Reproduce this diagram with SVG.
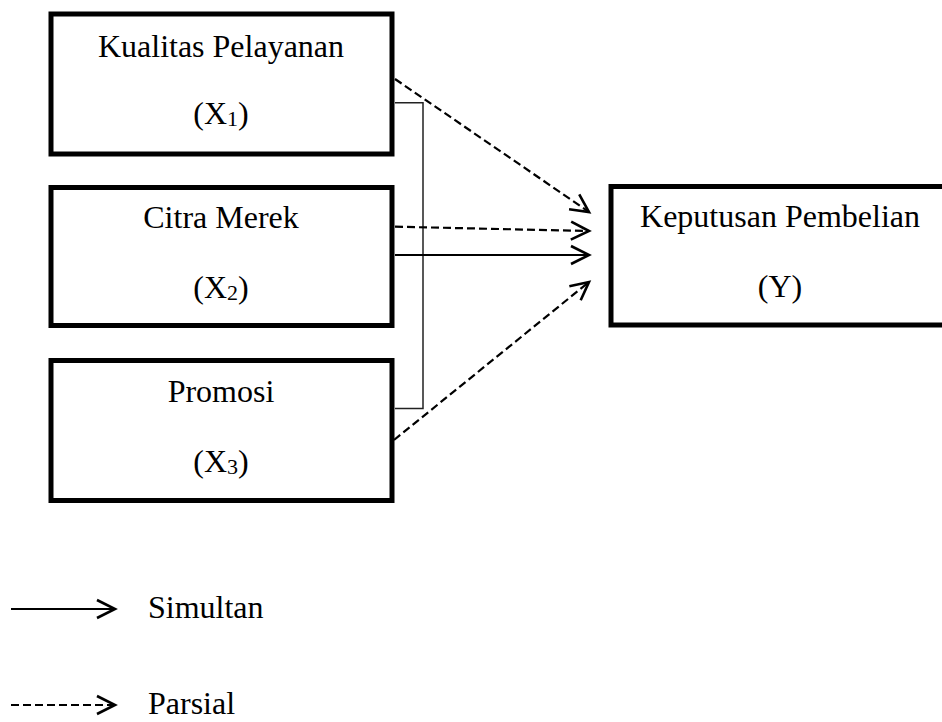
<svg xmlns="http://www.w3.org/2000/svg" width="942" height="722" viewBox="0 0 942 722">
<style>
  .box { fill: #fff; stroke: #000; stroke-width: 5; }
  .t { font-family: "Liberation Serif", "Times New Roman", serif; font-size: 32px; fill: #000; text-anchor: middle; }
  .tl { font-family: "Liberation Serif", "Times New Roman", serif; font-size: 32px; fill: #000; }
  .sub { font-size: 22px; }
  .solid { fill: none; stroke: #000; stroke-width: 2; }
  .dash { fill: none; stroke: #000; stroke-width: 2.2; stroke-dasharray: 8 4; }
  .brk { fill: none; stroke: #222; stroke-width: 1.5; }
</style>
<defs>
  <marker id="ah" markerUnits="userSpaceOnUse" viewBox="-21 -11 24 22" refX="0" refY="0" markerWidth="24" markerHeight="22" orient="auto" overflow="visible">
    <path d="M-18,-9 L0,0 L-18,9" fill="none" stroke="#000" stroke-width="2.6" stroke-linejoin="miter"/>
  </marker>
</defs>
<rect width="942" height="722" fill="#fff"/>

<g id="x1">
  <rect class="box" x="51" y="14" width="341" height="140"/>
  <text class="t" x="221" y="57">Kualitas Pelayanan</text>
  <text class="t" x="221" y="124">(X<tspan class="sub" dy="2">1</tspan><tspan dy="-2">)</tspan></text>
</g>
<g id="x2">
  <rect class="box" x="51" y="187.5" width="341" height="138"/>
  <text class="t" x="221" y="228">Citra Merek</text>
  <text class="t" x="221" y="298">(X<tspan class="sub" dy="2">2</tspan><tspan dy="-2">)</tspan></text>
</g>
<g id="x3">
  <rect class="box" x="51" y="360.5" width="341" height="140"/>
  <text class="t" x="221" y="402">Promosi</text>
  <text class="t" x="221" y="472">(X<tspan class="sub" dy="2">3</tspan><tspan dy="-2">)</tspan></text>
</g>
<g id="y">
  <rect class="box" x="611" y="186.5" width="339" height="138.5"/>
  <text class="t" x="780" y="227">Keputusan Pembelian</text>
  <text class="t" x="780" y="297">(Y)</text>
</g>

<g id="connectors">
  <path class="brk" d="M395,102.7 H423 V408.5 H395"/>
  <line class="dash" x1="395" y1="79" x2="589" y2="212" marker-end="url(#ah)"/>
  <line class="dash" x1="395" y1="226.7" x2="589" y2="231" marker-end="url(#ah)"/>
  <line class="solid" x1="395" y1="255" x2="589" y2="255" marker-end="url(#ah)"/>
  <line class="dash" x1="394" y1="440" x2="589" y2="282" marker-end="url(#ah)"/>
</g>

<g id="legend">
  <line class="solid" x1="11" y1="609" x2="115" y2="609" marker-end="url(#ah)"/>
  <text class="tl" x="148" y="618">Simultan</text>
  <line class="dash" x1="11" y1="705" x2="115" y2="705" marker-end="url(#ah)"/>
  <text class="tl" x="148" y="714">Parsial</text>
</g>
</svg>
